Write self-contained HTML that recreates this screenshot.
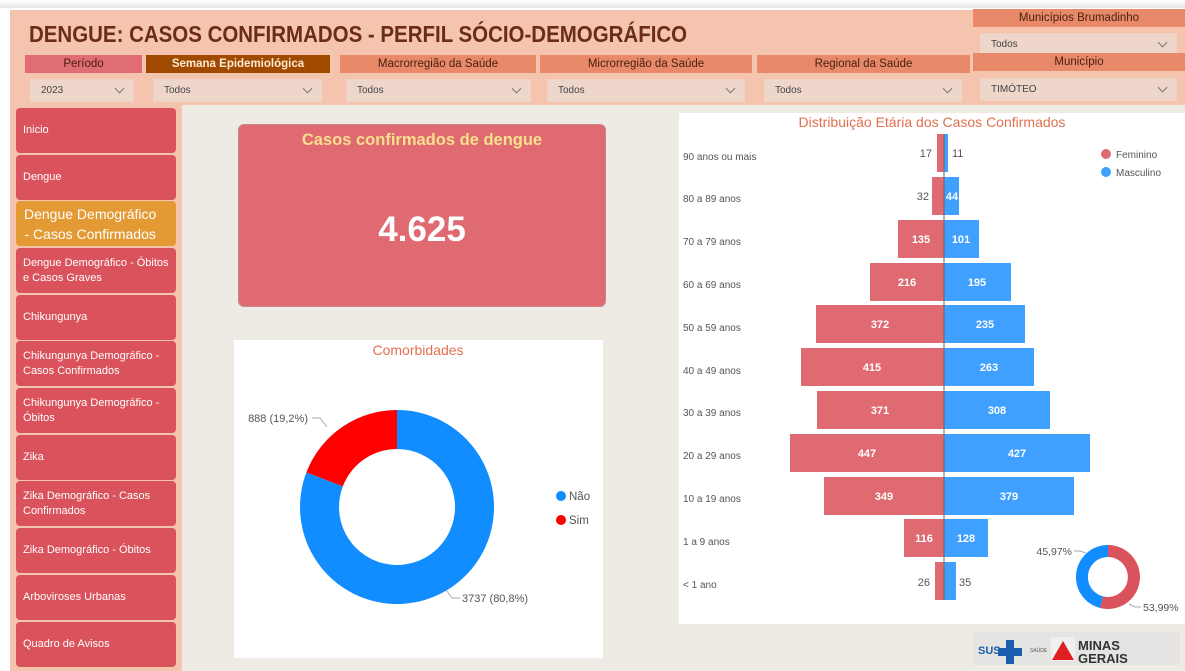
<!DOCTYPE html>
<html><head><meta charset="utf-8"><style>
*{margin:0;padding:0;box-sizing:border-box}
body{width:1185px;height:671px;overflow:hidden;background:#fff;font-family:"Liberation Sans","DejaVu Sans",sans-serif;position:relative}
.a{position:absolute}
.hd{position:absolute;height:18px;color:#4a2010;font-size:11.5px;text-align:center;line-height:18px}
.dd{position:absolute;height:23px;border:1px solid #f2d2c4;background:#efd6cb;font-size:10px;color:#444;line-height:21px;padding-left:10px}
.dd:after{content:"";position:absolute;right:10px;top:5px;width:6px;height:6px;border-right:1px solid #777;border-bottom:1px solid #777;transform:rotate(45deg)}
.btn{position:absolute;left:16px;width:160px;height:45px;background:#d9525c;border-radius:4px;color:#fff;font-size:11px;display:flex;align-items:center;padding-left:7px;line-height:15px}
</style></head><body>
<div class="a" style="left:0;top:0;width:1185px;height:8px;background:linear-gradient(#fff,#e8e6e4)"></div>
<div class="a" style="left:10px;top:10px;width:1175px;height:95px;background:#f4c4ae"></div>
<div class="a" style="left:10px;top:105px;width:172px;height:566px;background:#f4c4ae"></div>
<div class="a" style="left:182px;top:105px;width:1003px;height:566px;background:#eeeae4"></div>
<div class="a" style="left:29px;top:21px;font-size:23px;font-weight:bold;color:#6b2c18;transform:scaleX(0.89);transform-origin:0 0;white-space:nowrap">DENGUE: CASOS CONFIRMADOS - PERFIL SÓCIO-DEMOGRÁFICO</div>
<div class="hd" style="left:973px;top:9px;width:212px;background:#e8896a">Municípios Brumadinho</div>
<div class="dd" style="left:980px;top:33px;width:197px">Todos</div>
<div class="hd" style="left:25px;top:55px;width:117px;background:#e06c75">Período</div>
<div class="hd" style="left:146px;top:55px;width:184px;background:#a04a00;color:#fde9d0;font-weight:bold">Semana Epidemiológica</div>
<div class="hd" style="left:340px;top:55px;width:196px;background:#e8896a">Macrorregião da Saúde</div>
<div class="hd" style="left:540px;top:55px;width:212px;background:#e8896a">Microrregião da Saúde</div>
<div class="hd" style="left:757px;top:55px;width:213px;background:#e8896a">Regional da Saúde</div>
<div class="hd" style="left:973px;top:53px;width:212px;background:#e8896a">Município</div>
<div class="dd" style="left:30px;top:79px;width:104px">2023</div>
<div class="dd" style="left:153px;top:79px;width:169px">Todos</div>
<div class="dd" style="left:346px;top:79px;width:185px">Todos</div>
<div class="dd" style="left:547px;top:79px;width:198px">Todos</div>
<div class="dd" style="left:764px;top:79px;width:198px">Todos</div>
<div class="dd" style="left:980px;top:78px;width:197px">TIMÓTEO</div>

<div class="btn" style="top:108px">Inicio</div>
<div class="btn" style="top:155px">Dengue</div>
<div class="btn" style="top:201px;background:#e39a34;font-size:14px;line-height:20px;padding-left:8px;text-align:center">Dengue Demográfico<br>- Casos Confirmados</div>
<div class="btn" style="top:248px">Dengue Demográfico - Óbitos<br>e Casos Graves</div>
<div class="btn" style="top:295px">Chikungunya</div>
<div class="btn" style="top:341px">Chikungunya Demográfico -<br>Casos Confirmados</div>
<div class="btn" style="top:388px">Chikungunya Demográfico -<br>Óbitos</div>
<div class="btn" style="top:435px">Zika</div>
<div class="btn" style="top:481px">Zika Demográfico - Casos<br>Confirmados</div>
<div class="btn" style="top:528px">Zika Demográfico - Óbitos</div>
<div class="btn" style="top:575px">Arboviroses Urbanas</div>
<div class="btn" style="top:622px">Quadro de Avisos</div>

<div class="a" style="left:238px;top:124px;width:368px;height:183px;background:#df6a72;border:1px solid #c9868a;border-radius:6px"></div>
<div class="a" style="left:238px;top:131px;width:368px;text-align:center;color:#f8e08c;font-size:16.5px;font-weight:bold">Casos confirmados de dengue</div>
<div class="a" style="left:238px;top:210px;width:368px;text-align:center;color:#fff;font-size:35px;font-weight:bold">4.625</div>

<div class="a" style="left:234px;top:340px;width:369px;height:318px;background:#fff"></div>
<div class="a" style="left:679px;top:113px;width:506px;height:511px;background:#fff"></div>

<svg class="a" style="left:0;top:0" width="1185" height="671" font-family="Liberation Sans, sans-serif">
<text x="418" y="355" text-anchor="middle" font-size="14" fill="#e07050">Comorbidades</text>
<path d="M397 410 A97 97 0 1 1 306.4 472.4 L342.8 486.4 A58 58 0 1 0 397 449 Z" fill="#118dff"/>
<path d="M306.4 472.4 A97 97 0 0 1 397 410 L397 449 A58 58 0 0 0 342.8 486.4 Z" fill="#ff0000"/>
<polyline points="327,427 320,418 312,418" fill="none" stroke="#aaa"/>
<text x="308" y="422" text-anchor="end" font-size="11" fill="#555">888 (19,2%)</text>
<polyline points="446,590 452,598 460,598" fill="none" stroke="#aaa"/>
<text x="462" y="602" font-size="11" fill="#555">3737 (80,8%)</text>
<circle cx="561" cy="496" r="5" fill="#118dff"/><text x="569" y="500" font-size="11.5" fill="#555">Não</text>
<circle cx="561" cy="520" r="5" fill="#ff0000"/><text x="569" y="524" font-size="11.5" fill="#555">Sim</text>

<text x="932" y="127" text-anchor="middle" font-size="14" fill="#e07050">Distribuição Etária dos Casos Confirmados</text>
<circle cx="1106" cy="154" r="5" fill="#df6a72"/><text x="1116" y="158" font-size="10" fill="#555">Feminino</text>
<circle cx="1106" cy="172" r="5" fill="#3fa0ff"/><text x="1116" y="176" font-size="10" fill="#555">Masculino</text>
<g font-size="10" fill="#555">
<text x="683" y="160">90 anos ou mais</text>
<text x="683" y="202">80 a 89 anos</text>
<text x="683" y="245">70 a 79 anos</text>
<text x="683" y="288">60 a 69 anos</text>
<text x="683" y="331">50 a 59 anos</text>
<text x="683" y="374">40 a 49 anos</text>
<text x="683" y="416">30 a 39 anos</text>
<text x="683" y="459">20 a 29 anos</text>
<text x="683" y="502">10 a 19 anos</text>
<text x="683" y="545">1 a 9 anos</text>
<text x="683" y="588">&lt; 1 ano</text>
</g>
<g fill="#df6a72">
<rect x="937" y="134" width="7" height="38"/>
<rect x="932" y="177" width="12" height="38"/>
<rect x="898" y="220" width="46" height="38"/>
<rect x="870" y="263" width="74" height="38"/>
<rect x="816" y="305" width="128" height="38"/>
<rect x="801" y="348" width="143" height="38"/>
<rect x="817" y="391" width="127" height="38"/>
<rect x="790" y="434" width="154" height="38"/>
<rect x="824" y="477" width="120" height="38"/>
<rect x="904" y="519" width="40" height="38"/>
<rect x="935" y="562" width="9" height="38"/>
</g>
<g fill="#3fa0ff">
<rect x="944" y="134" width="4" height="38"/>
<rect x="944" y="177" width="15" height="38"/>
<rect x="944" y="220" width="35" height="38"/>
<rect x="944" y="263" width="67" height="38"/>
<rect x="944" y="305" width="81" height="38"/>
<rect x="944" y="348" width="90" height="38"/>
<rect x="944" y="391" width="106" height="38"/>
<rect x="944" y="434" width="146" height="38"/>
<rect x="944" y="477" width="130" height="38"/>
<rect x="944" y="519" width="44" height="38"/>
<rect x="944" y="562" width="12" height="38"/>
</g>
<line x1="944" y1="134" x2="944" y2="600" stroke="#666" stroke-width="1"/>
<g font-size="11" fill="#555">
<text x="932" y="157" text-anchor="end">17</text><text x="952" y="157">11</text>
<text x="929" y="200" text-anchor="end">32</text>
<text x="930" y="586" text-anchor="end">26</text><text x="959" y="586">35</text>
</g>
<g font-size="11" fill="#fff" font-weight="bold" text-anchor="middle">
<text x="952" y="200">44</text>
<text x="921" y="243">135</text><text x="961" y="243">101</text>
<text x="907" y="286">216</text><text x="977" y="286">195</text>
<text x="880" y="328">372</text><text x="985" y="328">235</text>
<text x="872" y="371">415</text><text x="989" y="371">263</text>
<text x="880" y="414">371</text><text x="997" y="414">308</text>
<text x="867" y="457">447</text><text x="1017" y="457">427</text>
<text x="884" y="500">349</text><text x="1009" y="500">379</text>
<text x="924" y="542">116</text><text x="966" y="542">128</text>
</g>
<path d="M1108 545 A32 32 0 1 1 1100 608 L1103 596.4 A20 20 0 1 0 1108 557 Z" fill="#d9525c"/>
<path d="M1100 608 A32 32 0 0 1 1108 545 L1108 557 A20 20 0 0 0 1103 596.4 Z" fill="#118dff"/>
<polyline points="1086,553 1080,551 1074,551" fill="none" stroke="#aaa"/>
<text x="1072" y="555" text-anchor="end" font-size="10.5" fill="#555">45,97%</text>
<polyline points="1129,604 1135,607 1141,607" fill="none" stroke="#aaa"/>
<text x="1143" y="611" font-size="10.5" fill="#555">53,99%</text>

<rect x="973" y="632" width="207" height="33" fill="#e6e4e2"/>
<text x="978" y="654" font-size="11" font-weight="bold" fill="#1b5fb0">SUS</text>
<path d="M1006 640 h8 v8 h8 v8 h-8 v8 h-8 v-8 h-8 v-8 h8 z" fill="#1b5fb0"/>
<text x="1030" y="652" font-size="5" fill="#555">SAÚDE</text>
<rect x="1051" y="637" width="24" height="24" fill="#f0f0f0"/>
<path d="M1063 641 L1074 660 L1052 660 Z" fill="#e02020"/>
<text x="1078" y="650" font-size="13" font-weight="bold" fill="#333">MINAS</text>
<text x="1078" y="663" font-size="13" font-weight="bold" fill="#333">GERAIS</text>
</svg>
</body></html>
